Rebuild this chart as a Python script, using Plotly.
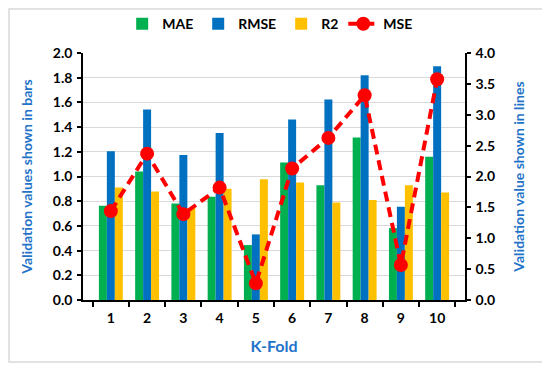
import plotly.graph_objects as go

folds = ["1", "2", "3", "4", "5", "6", "7", "8", "9", "10"]
mae = [0.763, 1.04, 0.782, 0.836, 0.445, 1.113, 0.930, 1.315, 0.582, 1.159]
rmse = [1.205, 1.542, 1.175, 1.353, 0.531, 1.461, 1.623, 1.819, 0.755, 1.892]
r2 = [0.911, 0.879, 0.745, 0.900, 0.978, 0.951, 0.790, 0.809, 0.930, 0.871]
mse = [1.44, 2.37, 1.39, 1.82, 0.27, 2.13, 2.625, 3.315, 0.566, 3.574]

FONT = "Lato"
BLUE_T = "#1F73C8"

fig = go.Figure()
fig.add_trace(go.Bar(x=folds, y=mae, name="MAE", marker_color="#00B050", marker_line_width=0))
fig.add_trace(go.Bar(x=folds, y=rmse, name="RMSE", marker_color="#0070C0", marker_line_width=0))
fig.add_trace(go.Bar(x=folds, y=r2, name="R2", marker_color="#FFC000", marker_line_width=0))
fig.add_trace(go.Scatter(x=folds, y=mse, name="MSE", yaxis="y2", mode="lines+markers",
                         line=dict(color="#FF0000", width=4, dash="10px,6px"),
                         marker=dict(color="#FF0000", size=14)))

W, H = 550, 370
L, R, T, B = 75, 93, 45, 78
fig.update_layout(
    width=W, height=H,
    margin=dict(l=L, r=R, t=T, b=B, autoexpand=False),
    paper_bgcolor="white", plot_bgcolor="white",
    barmode="group", bargap=0.34, bargroupgap=0,
    font=dict(family=FONT, size=14, color="black"),
    legend=dict(orientation="h", x=0.49, xanchor="center", y=1.117, yanchor="middle",
                bgcolor="rgba(0,0,0,0)",
                font=dict(family=FONT, size=14, color="black", weight="bold"),
                itemwidth=30, tracegroupgap=0),
    xaxis=dict(
        type="category", showline=True, linecolor="black", linewidth=1.5,
        ticks="outside", tickson="boundaries", ticklen=5, tickcolor="black", tickwidth=1.5,
        ticklabelstandoff=4,
        tickfont=dict(family=FONT, size=14, color="black", weight="bold"),
        title=dict(text="K-Fold", font=dict(family=FONT, size=16, color=BLUE_T, weight="bold"), standoff=16),
        showgrid=False,
    ),
    yaxis=dict(
        range=[0, 2.0], dtick=0.2, tickformat=".1f",
        showline=True, linecolor="black", linewidth=1.5,
        ticks="outside", ticklen=4, tickcolor="black", tickwidth=1.5,
        ticklabelstandoff=2,
        showgrid=True, gridcolor="#D9D9D9", gridwidth=1,
        tickfont=dict(family=FONT, size=14, color="black", weight="bold"),
        title=dict(text="Validation values shown in bars", font=dict(family=FONT, size=14, color=BLUE_T, weight="bold"), standoff=17),
        zeroline=False,
    ),
    yaxis2=dict(
        range=[0, 4.0], dtick=0.5, tickformat=".1f", overlaying="y", side="right",
        showline=True, linecolor="black", linewidth=1.5,
        ticks="outside", ticklen=4, tickcolor="black", tickwidth=1.5,
        ticklabelstandoff=2,
        showgrid=False, zeroline=False,
        tickfont=dict(family=FONT, size=14, color="black", weight="bold"),
        title=dict(text="Validation value shown in lines", font=dict(family=FONT, size=14, color=BLUE_T, weight="bold"), standoff=20),
    ),
)

# outer chart frame (figure pixel coords -> paper coords)
pw = W - L - R
ph = H - T - B
def px(x):
    return (x - L) / pw
def py(y):
    return (H - B - y) / ph
fig.add_shape(type="rect", xref="paper", yref="paper",
              x0=px(1), x1=px(535), y0=py(354), y1=py(1),
              line=dict(color="#D9D9D9", width=1.5), fillcolor="rgba(0,0,0,0)", layer="below")

fig.write_html("out.html")
